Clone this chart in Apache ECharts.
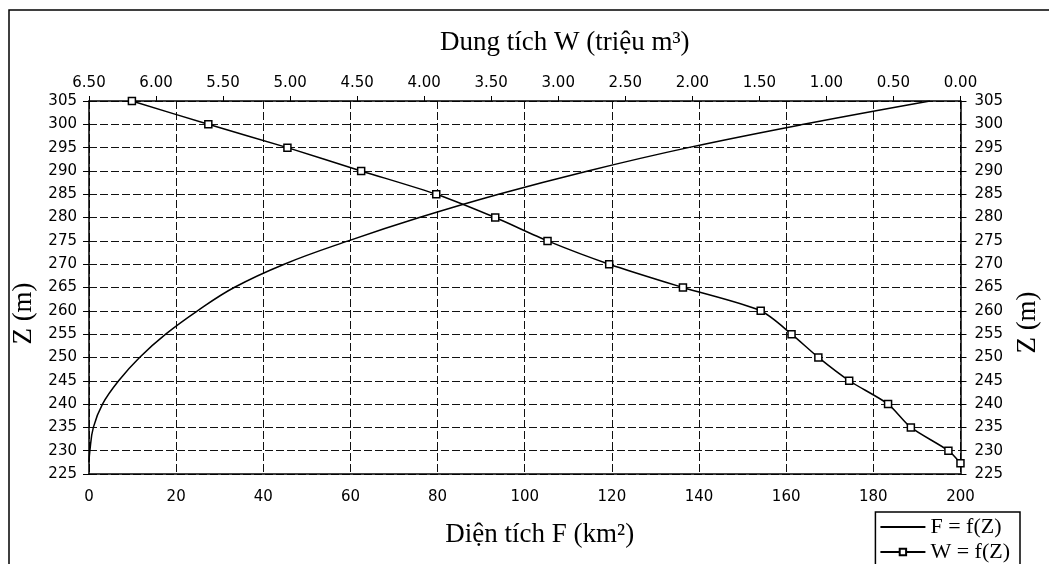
<!DOCTYPE html>
<html>
<head>
<meta charset="utf-8">
<script src="https://cdn.jsdelivr.net/npm/echarts@6/dist/echarts.min.js"></script>
<style>
html,body{margin:0;padding:0;background:#fff;}
#chart{width:1049px;height:564px;}
</style>
</head>
<body>
<div id="chart"></div>
<script>
// Z levels (m) and area F (km²) for F = f(Z)
const zLevelsF = [227.5, 230, 235, 240, 245, 250, 255, 260, 265, 270, 275, 280, 285, 290, 295, 300, 305];
const areaF    = [0, 0.2, 1.0, 3.1, 6.8, 11.6, 17.6, 24.9, 33.3, 44.8, 59.5, 75.8, 94.0, 114.5, 137.5, 164.0, 193.0];
// Z levels (m) and volume W (million m³) for W = f(Z)
const zLevelsW = [227.3, 230, 235, 240, 245, 250, 255, 260, 265, 270, 275, 280, 285, 290, 295, 300, 305];
const volumeW  = [0.00, 0.09, 0.37, 0.54, 0.83, 1.06, 1.26, 1.49, 2.07, 2.62, 3.08, 3.47, 3.91, 4.47, 5.02, 5.61, 6.18];
// axis ranges / tick settings
const fAxis = {min: 0, max: 200, interval: 20};
const wAxis = {min: 0, max: 6.5, interval: 0.5};
const zAxis = {min: 225, max: 305, interval: 5};

const serifFont = '"Liberation Serif", "Times New Roman", serif';
const labelFont = '"DejaVu Sans", Verdana, sans-serif';
const black = '#000';

const chart = echarts.init(document.getElementById('chart'), null, {renderer: 'canvas'});
const labelStyle = {color: black, fontFamily: labelFont, fontSize: 15};
const nameStyle = {color: black, fontFamily: serifFont, fontSize: 27};

chart.setOption({
  animation: false,
  backgroundColor: '#fff',
  graphic: [{
    type: 'rect', z: -10, silent: true,
    shape: {x: 9, y: 10, width: 1200, height: 700},
    style: {fill: 'none', stroke: black, lineWidth: 1.5}
  }],
  grid: {left: 89, right: 77, top: 101, bottom: 90, containLabel: false},
  legend: {
    orient: 'vertical', right: 29, top: 512, height: 120,
    backgroundColor: '#fff',
    borderColor: black, borderWidth: 1.5, borderRadius: 0,
    padding: [3, 10, 12, 4],
    itemWidth: 45, itemHeight: 8, itemGap: 1,
    textStyle: {color: black, fontFamily: serifFont, fontSize: 22, lineHeight: 24, padding: [0, 0, 0, 0]},
    data: ['F = f(Z)', 'W = f(Z)']
  },
  xAxis: [{
    type: 'value', position: 'bottom',
    min: fAxis.min, max: fAxis.max, interval: fAxis.interval,
    name: 'Diện tích F (km²)', nameLocation: 'middle', nameGap: 47,
    nameTextStyle: Object.assign({}, nameStyle, {padding: [0, 0, 0, 30]}),
    axisLine: {show: true, onZero: false, lineStyle: {color: black, width: 1.5}},
    axisTick: {show: false},
    axisLabel: Object.assign({}, labelStyle, {margin: 16}),
    splitLine: {show: true, lineStyle: {color: '#111', width: 1, type: [8, 3]}}
  }, {
    type: 'value', position: 'top', inverse: true,
    min: wAxis.min, max: wAxis.max, interval: wAxis.interval,
    name: 'Dung tích W (triệu m³)', nameLocation: 'middle', nameGap: 45,
    nameTextStyle: Object.assign({}, nameStyle, {padding: [0, 0, 0, 80]}),
    axisLine: {show: true, onZero: false, lineStyle: {color: black, width: 1.5}},
    axisTick: {show: true, inside: false, length: 5, lineStyle: {color: black, width: 1}},
    axisLabel: Object.assign({}, labelStyle, {margin: 10, formatter: v => v.toFixed(2)}),
    splitLine: {show: false}
  }],
  yAxis: [{
    type: 'value', position: 'left',
    min: zAxis.min, max: zAxis.max, interval: zAxis.interval,
    name: 'Z (m)', nameLocation: 'middle', nameGap: 46, nameRotate: 90,
    nameTextStyle: Object.assign({}, nameStyle, {padding: [0, 52, 0, 0]}),
    axisLine: {show: true, onZero: false, lineStyle: {color: black, width: 1.5}},
    axisTick: {show: true, length: 6, lineStyle: {color: black, width: 1}},
    axisLabel: Object.assign({}, labelStyle, {margin: 12}),
    splitLine: {show: true, lineStyle: {color: '#111', width: 1, type: [8, 3]}}
  }, {
    type: 'value', position: 'right',
    min: zAxis.min, max: zAxis.max, interval: zAxis.interval,
    name: 'Z (m)', nameLocation: 'middle', nameGap: 52, nameRotate: 90,
    nameTextStyle: Object.assign({}, nameStyle, {padding: [0, 70, 0, 0]}),
    axisLine: {show: true, onZero: false, lineStyle: {color: black, width: 1.5}},
    axisTick: {show: true, length: 6, lineStyle: {color: black, width: 1}},
    axisLabel: Object.assign({}, labelStyle, {margin: 14}),
    splitLine: {show: false}
  }],
  series: [{
    name: 'F = f(Z)', type: 'line',
    xAxisIndex: 0, yAxisIndex: 0,
    data: areaF.map((f, i) => [f, zLevelsF[i]]),
    smooth: 0.4, symbol: 'line', showSymbol: false,
    lineStyle: {color: black, width: 1.5},
    itemStyle: {color: black}
  }, {
    name: 'W = f(Z)', type: 'line',
    xAxisIndex: 1, yAxisIndex: 0,
    data: volumeW.map((w, i) => [w, zLevelsW[i]]),
    smooth: 0.25, symbol: 'rect', symbolSize: 7, showAllSymbol: true,
    lineStyle: {color: black, width: 1.5},
    itemStyle: {color: '#fff', borderColor: black, borderWidth: 1.5}
  }]
});
</script>
</body>
</html>
